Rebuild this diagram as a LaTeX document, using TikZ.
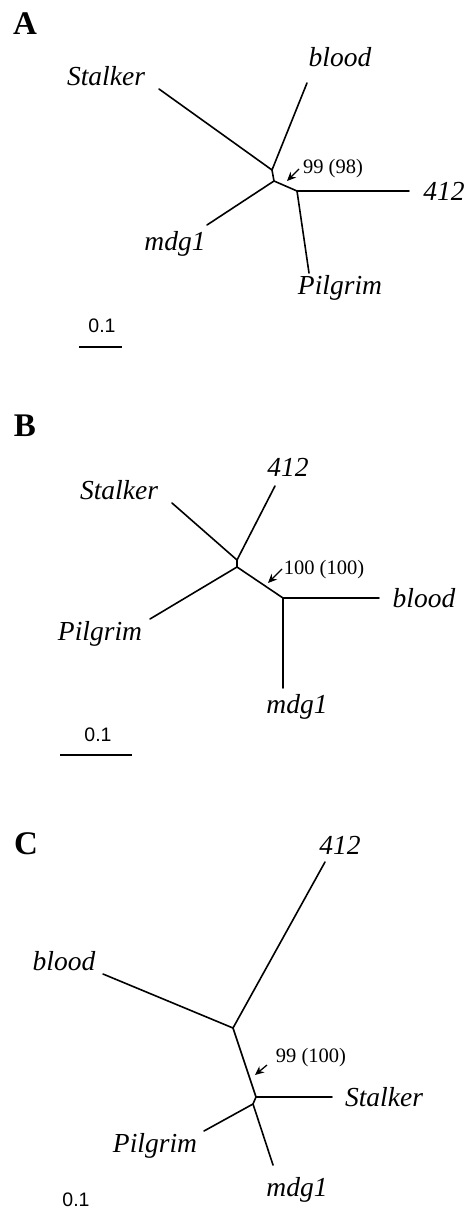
\documentclass[tikz,border=0pt]{standalone}
\usepackage{fontspec}
\setmainfont{Liberation Serif}
\setsansfont{Liberation Sans}
\usetikzlibrary{arrows.meta}
\tikzset{
  branch/.style={line width=1.6pt, line cap=round, line join=round},
  taxon/.style={inner sep=0pt, font=\fontsize{27.5}{27.5}\selectfont\itshape},
  panel/.style={inner sep=0pt, font=\fontsize{33}{33}\selectfont\bfseries},
  boot/.style={inner sep=0pt, font=\fontsize{20.5}{20.5}\selectfont},
  scalelbl/.style={inner sep=0pt, font=\sffamily\fontsize{19.5}{19.5}\selectfont},
  bootarrow/.style={line width=1.3pt, -{Stealth[length=9pt,width=8pt]}},
  scalebar/.style={line width=1.6pt},
}
\begin{document}
\begin{tikzpicture}[x=1pt,y=-1pt]
\useasboundingbox (0,0) rectangle (469,1222);
% ---------------- Panel A ----------------
\node[panel] (pA) at (25,24) {A};
\coordinate (a1) at (272,170);
\coordinate (a2) at (274,181);
\coordinate (a3) at (297,191);
\coordinate (aS) at (159,89);
\coordinate (aB) at (307,83);
\coordinate (aM) at (207,225);
\coordinate (a4) at (409,191);
\coordinate (aP) at (309,273);
\draw[branch] (aS) -- (a1) -- (aB);
\draw[branch] (a1) -- (a2) -- (a3);
\draw[branch] (a2) -- (aM);
\draw[branch] (a3) -- (a4);
\draw[branch] (a3) -- (aP);
\node[taxon] (tAS) at (106,76) {Stalker};
\node[taxon] (tAB) at (340,57) {blood};
\node[taxon] (tA4) at (444,191) {412};
\node[taxon] (tAM) at (175,244) {mdg1};
\node[taxon] (tAP) at (340,288) {Pilgrim};
\node[boot] (bA) at (333,169) {99 (98)};
\coordinate (arA0) at (299,169);
\coordinate (arA1) at (287,181);
\draw[bootarrow] (arA0) -- (arA1);
\node[scalelbl] (sA) at (102,326) {0.1};
\coordinate (sbA0) at (79,347);
\coordinate (sbA1) at (122,347);
\draw[scalebar] (sbA0) -- (sbA1);
% ---------------- Panel B ----------------
\node[panel] (pB) at (25,426) {B};
\coordinate (b1) at (237,560);
\coordinate (b2) at (237,567);
\coordinate (b3) at (283,598);
\coordinate (b4) at (275,486);
\coordinate (bS) at (172,503);
\coordinate (bP) at (150,619);
\coordinate (bB) at (379,598);
\coordinate (bM) at (283,688);
\draw[branch] (bS) -- (b1) -- (b4);
\draw[branch] (b1) -- (b2) -- (b3);
\draw[branch] (b2) -- (bP);
\draw[branch] (b3) -- (bB);
\draw[branch] (b3) -- (bM);
\node[taxon] (tB4) at (288,467) {412};
\node[taxon] (tBS) at (119,490) {Stalker};
\node[taxon] (tBB) at (424,598) {blood};
\node[taxon] (tBP) at (100,634) {Pilgrim};
\node[taxon] (tBM) at (297,707) {mdg1};
\node[boot] (bB0) at (324,570) {100 (100)};
\coordinate (arB0) at (282,569);
\coordinate (arB1) at (268,583);
\draw[bootarrow] (arB0) -- (arB1);
\node[scalelbl] (sB) at (98,735) {0.1};
\coordinate (sbB0) at (60,755);
\coordinate (sbB1) at (132,755);
\draw[scalebar] (sbB0) -- (sbB1);
% ---------------- Panel C ----------------
\node[panel] (pC) at (26,844) {C};
\coordinate (c1) at (233,1028);
\coordinate (c2) at (256,1097);
\coordinate (c3) at (253,1104);
\coordinate (c4) at (325,862);
\coordinate (cB) at (103,974);
\coordinate (cS) at (332,1097);
\coordinate (cP) at (204,1131);
\coordinate (cM) at (273,1165);
\draw[branch] (cB) -- (c1) -- (c4);
\draw[branch] (c1) -- (c2) -- (c3);
\draw[branch] (c2) -- (cS);
\draw[branch] (c3) -- (cP);
\draw[branch] (c3) -- (cM);
\node[taxon] (tC4) at (340,845) {412};
\node[taxon] (tCB) at (64,961) {blood};
\node[taxon] (tCS) at (384,1097) {Stalker};
\node[taxon] (tCP) at (155,1146) {Pilgrim};
\node[taxon] (tCM) at (297,1190) {mdg1};
\node[boot] (bC) at (311,1058) {99 (100)};
\coordinate (arC0) at (267,1065);
\coordinate (arC1) at (255,1075);
\draw[bootarrow] (arC0) -- (arC1);
\node[scalelbl] (sC) at (76,1200) {0.1};
\end{tikzpicture}
\end{document}
